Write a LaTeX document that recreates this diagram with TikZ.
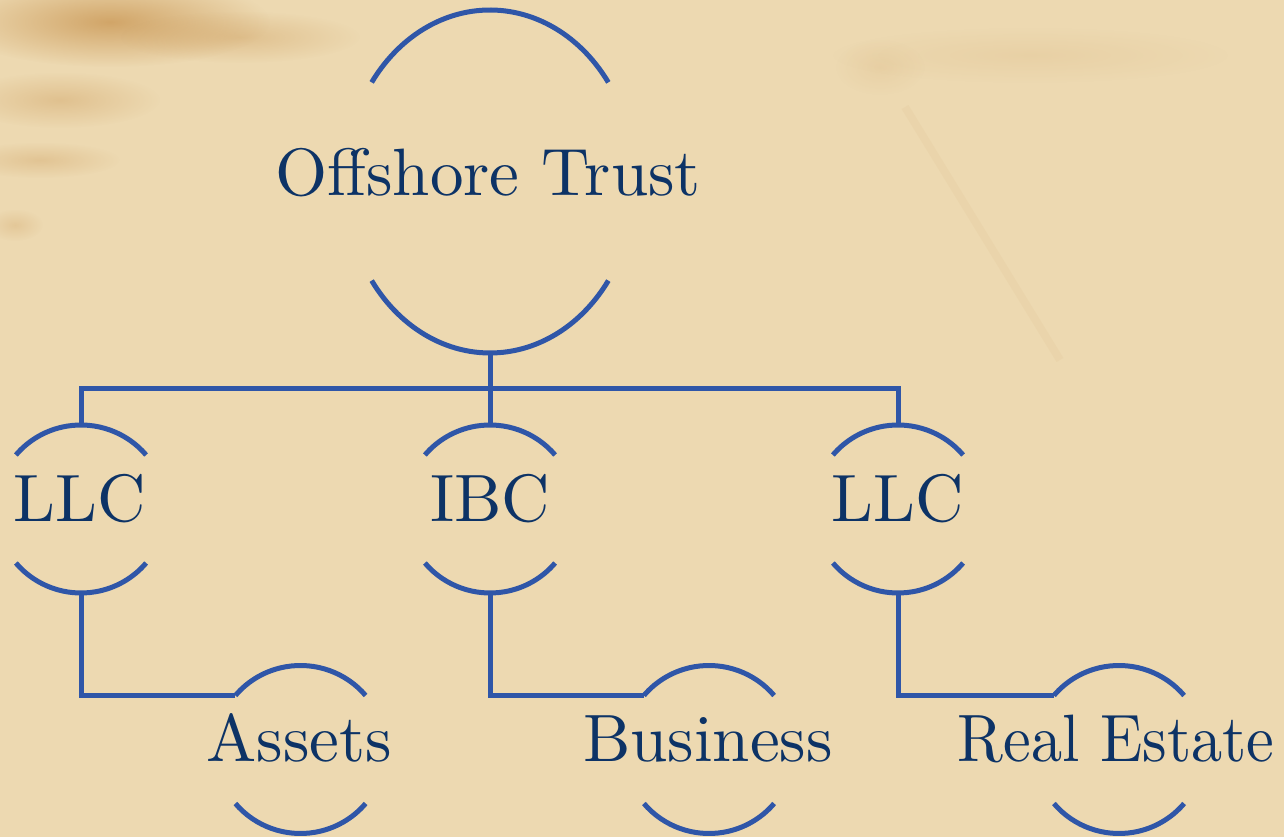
\documentclass[tikz,border=0pt]{standalone}
\usetikzlibrary{fadings,calc}
\definecolor{bg}{HTML}{EDD9B1}
\definecolor{lineblue}{HTML}{2F56A8}
\definecolor{txt}{HTML}{0D3366}
\definecolor{stain}{HTML}{C89450}
\tikzfading[name=fuzzy, inner color=transparent!0, outer color=transparent!100]
\newcommand{\ringarcs}[4]{%
  \draw[arcline] (#1) ++(#4:#2 and #3) arc[start angle=#4, end angle={180-#4}, x radius=#2, y radius=#3];
  \draw[arcline] (#1) ++({180+#4}:#2 and #3) arc[start angle={180+#4}, end angle={360-#4}, x radius=#2, y radius=#3];}
\newcommand{\bigtext}[1]{\scalebox{6.7}{#1}}
\begin{document}
\begin{tikzpicture}[x=1pt,y=1pt,
  conn/.style={draw=lineblue, line width=5pt},
  arcline/.style={draw=lineblue, line width=5pt},
  lbl/.style={text=txt, font=\fontsize{10}{12}\selectfont, anchor=base, inner sep=0pt},
  stainblob/.style={fill=stain, path fading=fuzzy}]

\fill[bg] (0,0) rectangle (1284,837);
\useasboundingbox (0,0) rectangle (1284,837);

% background stains
\fill[stainblob, fill opacity=0.75] (110,815) ellipse (160 and 45);
\fill[stainblob, fill opacity=0.35] (240,800) ellipse (120 and 26);
\fill[stainblob, fill opacity=0.35] (60,737) ellipse (100 and 28);
\fill[stainblob, fill opacity=0.3] (40,677) ellipse (80 and 18);
\fill[stainblob, fill opacity=0.25] (15,612) ellipse (28 and 16);
\fill[stainblob, fill opacity=0.12] (1030,782) ellipse (200 and 28);
\fill[stainblob, fill opacity=0.12] (880,770) ellipse (45 and 28);
\draw[stain, opacity=0.06, line width=8pt] (905,730) -- (1060,477);

% centres
\coordinate (trustC) at (490,655.5);
\coordinate (llcAC) at (81,328);
\coordinate (ibcC) at (490,328);
\coordinate (llcBC) at (898,328);
\coordinate (assetsC) at (300.5,87.5);
\coordinate (busiC) at (709,87.5);
\coordinate (reC) at (1119,87.5);

% rings
\ringarcs{trustC}{145}{171.5}{35.3}
\ringarcs{llcAC}{85}{84}{40}
\ringarcs{ibcC}{85}{84}{40}
\ringarcs{llcBC}{85}{84}{40}
\ringarcs{assetsC}{85}{84}{40}
\ringarcs{busiC}{85}{84}{40}
\ringarcs{reC}{85}{84}{40}

% labels
\node[lbl] (trust) at (488,641) {\bigtext{Offshore Trust}};
\node[lbl] (llcA) at (80,315) {\bigtext{LLC}};
\node[lbl] (ibc) at (490,315) {\bigtext{IBC}};
\node[lbl] (llcB) at (898,315) {\bigtext{LLC}};
\node[lbl] (assets) at (299,75) {\bigtext{Assets}};
\node[lbl] (busi) at (708,75) {\bigtext{Business}};
\node[lbl] (re) at (1116,75) {\scalebox{6.23}[6.7]{Real Estate}};

% anchor points
\coordinate (trustBot) at ($(trustC)+(0,-171.5)$);
\coordinate (bus) at (490,448);
\coordinate (llcATop) at (81,412);
\coordinate (ibcTop) at (490,412);
\coordinate (llcBTop) at (898,412);
\coordinate (llcABot) at (81,244);
\coordinate (ibcBot) at (490,244);
\coordinate (llcBBot) at (898,244);
\coordinate (assetsL) at ($(assetsC)+(140:85 and 84)$);
\coordinate (busiL) at ($(busiC)+(140:85 and 84)$);
\coordinate (reL) at ($(reC)+(140:85 and 84)$);

% connectors
\draw[conn] (trustBot) -- (ibcTop);
\draw[conn] (llcATop) |- (bus) -| (llcBTop);
\draw[conn] (llcABot) |- (assetsL);
\draw[conn] (ibcBot) |- (busiL);
\draw[conn] (llcBBot) |- (reL);
\end{tikzpicture}
\end{document}
